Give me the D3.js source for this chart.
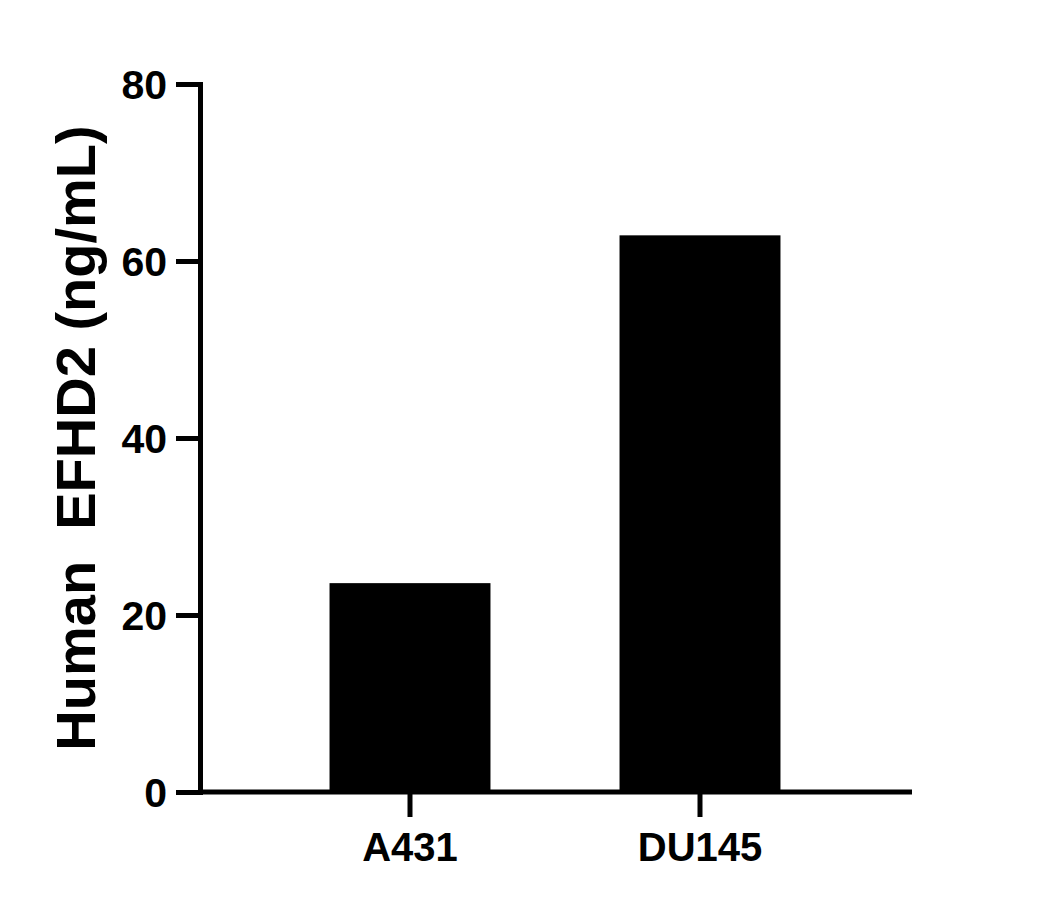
<!DOCTYPE html>
<html>
<head>
<meta charset="utf-8">
<title>Human EFHD2</title>
<script src="https://cdn.jsdelivr.net/npm/d3@7"></script>
<style>
  body { margin: 0; background: #fff; }
  .axis text { font-family: "Liberation Sans", Arial, sans-serif; font-weight: bold; fill: #000; }
  .axis path, .axis line { stroke: #000; stroke-width: 5; }
</style>
</head>
<body>
<script>
// data
var categories = ["A431", "DU145"];
var values = [23.6, 62.9];
var yTicks = [0, 20, 40, 60, 80];
var yTitle = "Human\u00a0\u00a0EFHD2 (ng/mL)";

var width = 1048, height = 909;
var margin = {left: 200, right: 912, top: 84, bottom: 792};

var svg = d3.select("body").append("svg")
  .attr("width", width)
  .attr("height", height);

var y = d3.scaleLinear().domain([0, 80]).range([margin.bottom, margin.top]);
var x = d3.scaleBand().domain(categories)
  .range([265, 845])
  .paddingInner(0.445)
  .paddingOuter(0.2225);

// bars
svg.selectAll("rect.bar")
  .data(values)
  .enter().append("rect")
  .attr("class", "bar")
  .attr("x", function(d, i) { return x(categories[i]); })
  .attr("width", x.bandwidth())
  .attr("y", function(d) { return y(d); })
  .attr("height", function(d) { return y(0) - y(d); })
  .attr("fill", "#000");

// y axis
var gy = svg.append("g")
  .attr("class", "axis")
  .attr("transform", "translate(" + margin.left + ",0)")
  .call(d3.axisLeft(y).tickValues(yTicks).tickSize(24).tickSizeOuter(0).tickPadding(9));
gy.selectAll("text").style("font-size", "41px").attr("dy", "0.35em");
gy.select(".domain").attr("stroke-linecap", "square");

// x axis
var gx = svg.append("g")
  .attr("class", "axis")
  .attr("transform", "translate(0," + margin.bottom + ")")
  .call(d3.axisBottom(x).tickSize(25).tickSizeOuter(0).tickPadding(16));
gx.select(".domain").remove();
gx.append("line")
  .attr("x1", margin.left).attr("x2", margin.right)
  .attr("y1", 0).attr("y2", 0);
gx.selectAll("text").style("font-size", "40px");

// y title
svg.append("text")
  .attr("transform", "translate(95," + ((margin.top + margin.bottom) / 2) + ") rotate(-90)")
  .attr("text-anchor", "middle")
  .style("font-family", "'Liberation Sans', Arial, sans-serif")
  .style("font-weight", "bold")
  .style("font-size", "56px")
  .text(yTitle);
</script>
</body>
</html>
